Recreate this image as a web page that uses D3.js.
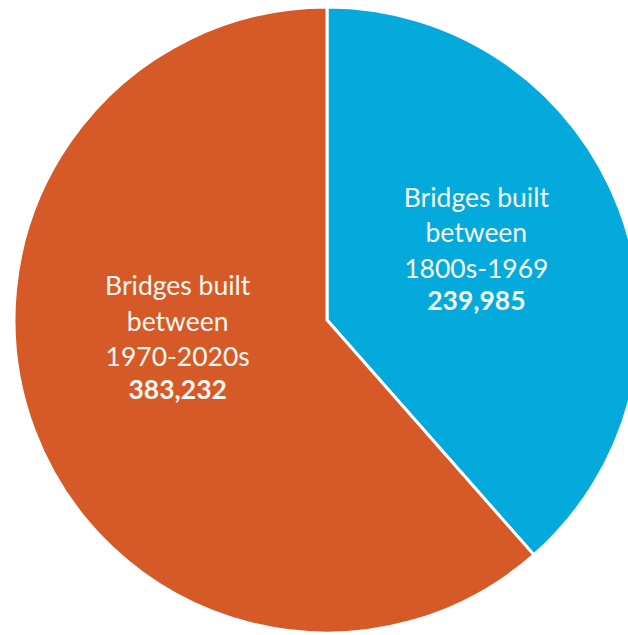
<!DOCTYPE html>
<html>
<head>
<meta charset="utf-8">
<script src="https://cdn.jsdelivr.net/npm/d3@7"></script>
<style>
  html, body { margin: 0; padding: 0; background: #ffffff; }
  svg { display: block; }
</style>
</head>
<body>
<svg id="chart" width="628" height="635"></svg>
<script>
// Bridge counts by construction period
const periods = ["1800s-1969", "1970-2020s"];
const bridgeCounts = [239985, 383232];
const labelLines = [
  ["Bridges built", "between", "1800s-1969"],
  ["Bridges built", "between", "1970-2020s"]
];
const sliceColors = ["#04AADB", "#D65A27"];

const width = 628, height = 635;
const cx = 327, cy = 320, radius = 313;

const svg = d3.select("#chart");
const g = svg.append("g").attr("transform", `translate(${cx},${cy})`);

const pie = d3.pie().sort(null).value(d => d.value);
const data = periods.map((p, i) => ({ period: p, value: bridgeCounts[i], lines: labelLines[i], color: sliceColors[i] }));
const arcs = pie(data);

const arc = d3.arc().innerRadius(0).outerRadius(radius);
const labelArc = d3.arc().innerRadius(radius * 0.51).outerRadius(radius * 0.51);

g.selectAll("path.slice")
  .data(arcs)
  .join("path")
  .attr("class", "slice")
  .attr("d", arc)
  .attr("fill", d => d.data.color)
  .attr("stroke", "#ffffff")
  .attr("stroke-width", 3)
  .attr("stroke-linejoin", "miter");

const fmt = d3.format(",");
const lineGap = 35.5;
// vertical shift of each label block relative to its centroid
const blockShift = [-57, -81];

const labels = g.selectAll("text.label")
  .data(arcs)
  .join("text")
  .attr("class", "label")
  .attr("text-anchor", "middle")
  .attr("fill", "#F7F7F2")
  .style("font-family", "Lato, 'Open Sans', sans-serif")
  .style("font-size", "26.5px")
  .attr("transform", (d, i) => {
    const [x, y] = labelArc.centroid(d);
    return `translate(${x},${y + blockShift[i]})`;
  });

labels.each(function(d) {
  const t = d3.select(this);
  d.data.lines.forEach((line, j) => {
    t.append("tspan").attr("x", 0).attr("y", j * lineGap).text(line);
  });
  t.append("tspan")
    .attr("x", 0)
    .attr("y", d.data.lines.length * lineGap - 3)
    .style("font-weight", "bold")
    .text(fmt(d.data.value));
});
</script>
</body>
</html>
